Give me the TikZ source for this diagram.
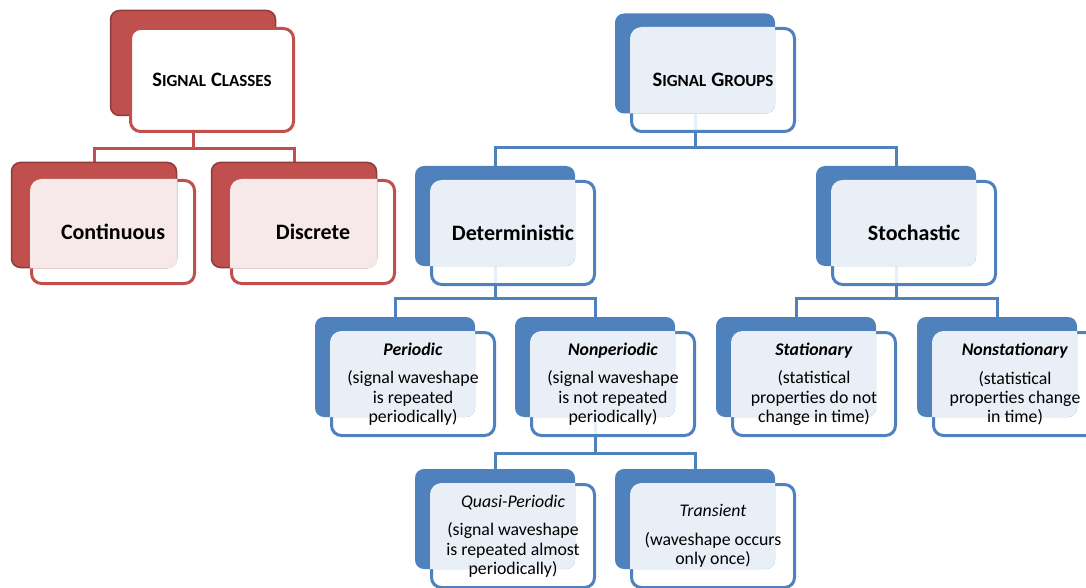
\documentclass[tikz,border=0pt]{standalone}
\usepackage{fontspec}
\setmainfont{Carlito}
\definecolor{blu}{HTML}{4F81BD}
\definecolor{rd}{HTML}{C0504D}
\definecolor{rdk}{HTML}{8E3B39}

\tikzset{
  backblue/.style={fill=blu, rounded corners=9pt, minimum width=160pt,
    minimum height=100pt, inner sep=0pt, outer sep=0pt},
  frontblue/.style={draw=blu, line width=3pt, fill=white, fill opacity=.88,
    rounded corners=10pt, minimum width=163pt, minimum height=103pt,
    inner sep=0pt, outer sep=1.5pt},
  backred/.style={fill=rd, draw=rdk, line width=1.5pt, rounded corners=9pt,
    minimum width=165pt, minimum height=105pt, inner sep=0pt, outer sep=.75pt},
  frontred/.style={draw=rd, line width=3pt, fill=white, fill opacity=.88,
    rounded corners=10pt, minimum width=163pt, minimum height=103pt,
    inner sep=0pt, outer sep=1.5pt},
  frontredsolid/.style={frontred, fill opacity=1},
  bconn/.style={draw=blu, line width=3pt},
  rconn/.style={draw=rd, line width=3pt},
  headtxt/.style={font=\fontsize{22}{26}\selectfont\bfseries, align=center},
  subtxt/.style={font=\fontsize{17.8}{19.3}\selectfont, align=center, inner sep=0pt},
}

% a two-layer tile: solid back card, translucent front card offset down-right
\newcommand\bluetile[3]{% name, x, y (top-left of back card)
  \node[frontblue] (#1f) at (#2+98,#3+67) {};
  \node[backblue] (#1) at (#2+80,#3+50) {};
  \begin{scope}
    \clip[rounded corners=9pt] (#1.north west) rectangle (#1.south east);
    \fill[white, opacity=.88, rounded corners=11.5pt] (#1f.north west) rectangle (#1f.south east);
  \end{scope}
}
\newcommand\redtile[3]{% name, x, y
  \node[frontred] (#1f) at (#2+102,#3+70) {};
  \node[backred] (#1) at (#2+83,#3+53) {};
  \begin{scope}
    \clip[rounded corners=9pt] (#1.north west) rectangle (#1.south east);
    \fill[white, opacity=.88, rounded corners=11.5pt] (#1f.north west) rectangle (#1f.south east);
  \end{scope}
}
% hand-made small capitals
\newcommand\smc[2]{{\fontsize{20.5}{24}\selectfont #1}{\fontsize{17}{24}\selectfont #2}}

\begin{document}
\begin{tikzpicture}[x=1pt, y=-1pt]
\useasboundingbox (0,0) rectangle (1086,588);
\clip (0,0) rectangle (1086,588);

% ---------- invisible copies of the back cards, used by the connectors ----------
% connectors are drawn first so that the cards sit on top of them
\begin{scope}[opacity=0]
  \node[backred]  (sc)    at (110+83,10+53)  {};
  \node[backred]  (cont)  at (11+83,162+53)  {};
  \node[backred]  (disc)  at (211+83,162+53) {};
  \node[backblue] (sg)    at (615+80,14+50)  {};
  \node[backblue] (det)   at (415+80,166+50) {};
  \node[backblue] (sto)   at (816+80,166+50) {};
  \node[backblue] (per)   at (315+80,317+50) {};
  \node[backblue] (nonp)  at (515+80,317+50) {};
  \node[backblue] (stat)  at (716+80,317+50) {};
  \node[backblue] (nonst) at (917+80,317+50) {};
  \node[backblue] (quasi) at (415+80,469+50) {};
  \node[backblue] (trans) at (615+80,469+50) {};
\end{scope}

\draw[rconn] (sc.south) -- ++(0,32) -| (cont.north);
\draw[rconn] (sc.south) -- ++(0,32) -| (disc.north);
\draw[bconn] (sg.south) -- ++(0,34) -| (det.north);
\draw[bconn] (sg.south) -- ++(0,34) -| (sto.north);
\draw[bconn] (det.south) -- ++(0,32) -| (per.north);
\draw[bconn] (det.south) -- ++(0,32) -| (nonp.north);
\draw[bconn] (sto.south) -- ++(0,32) -| (stat.north);
\draw[bconn] (sto.south) -- ++(0,32) -| (nonst.north);
\draw[bconn] (nonp.south) -- ++(0,36) -| (quasi.north);
\draw[bconn] (nonp.south) -- ++(0,36) -| (trans.north);

% ---------- signal classes (red) ----------
\node[backred] (sc) at (110+83,10+53) {};
\node[frontredsolid] (scf) at (110+102,10+70) {};
\node[headtxt] (sct) at (scf.center) {\smc{S}{IGNAL} \smc{C}{LASSES}};

\redtile{cont}{11}{162}
\node[headtxt] (contt) at (contf.center) {Continuous};
\redtile{disc}{211}{162}
\node[headtxt] (disct) at (discf.center) {Discrete};

% ---------- signal groups (blue) ----------
\node[frontblue] (sgf) at (615+98,14+66) {};
\node[backblue] (sg) at (615+80,14+49.5) {};
\begin{scope}
  \clip[rounded corners=9pt] (sg.north west) rectangle (sg.south east);
  \fill[white, opacity=.88, rounded corners=11.5pt] (sgf.north west) rectangle (sgf.south east);
\end{scope}
\node[headtxt] (sgt) at (sgf.center) {\smc{S}{IGNAL} \smc{G}{ROUPS}};

\bluetile{det}{415}{166}
\node[headtxt] (dett) at (detf.center) {Deterministic};
\bluetile{sto}{816}{166}
\node[headtxt] (stot) at (stof.center) {Stochastic};

\bluetile{per}{315}{317}
\node[subtxt] (pert) at (perf.center) {\textbf{\textit{Periodic}}\\[9.5pt](signal waveshape\\is repeated\\periodically)};
\bluetile{nonp}{515}{317}
\node[subtxt] (nonpt) at (nonpf.center) {\textbf{\textit{Nonperiodic}}\\[9.5pt](signal waveshape\\is not repeated\\periodically)};
\bluetile{stat}{716}{317}
\node[subtxt] (statt) at (statf.center) {\textbf{\textit{Stationary}}\\[9.5pt](statistical\\properties do not\\change in time)};
\bluetile{nonst}{917}{317}
\node[subtxt] (nonstt) at (nonstf.center) {\textbf{\textit{Nonstationary}}\\[9.5pt](statistical\\properties change\\in time)};

\bluetile{quasi}{415}{469}
\node[subtxt] (quasit) at (quasif.center) {\textit{Quasi-Periodic}\\[9.5pt](signal waveshape\\is repeated almost\\periodically)};
\bluetile{trans}{615}{469}
\node[subtxt] (transt) at (transf.center) {\textit{Transient}\\[9.5pt](waveshape occurs\\only once)};
\end{tikzpicture}
\end{document}
